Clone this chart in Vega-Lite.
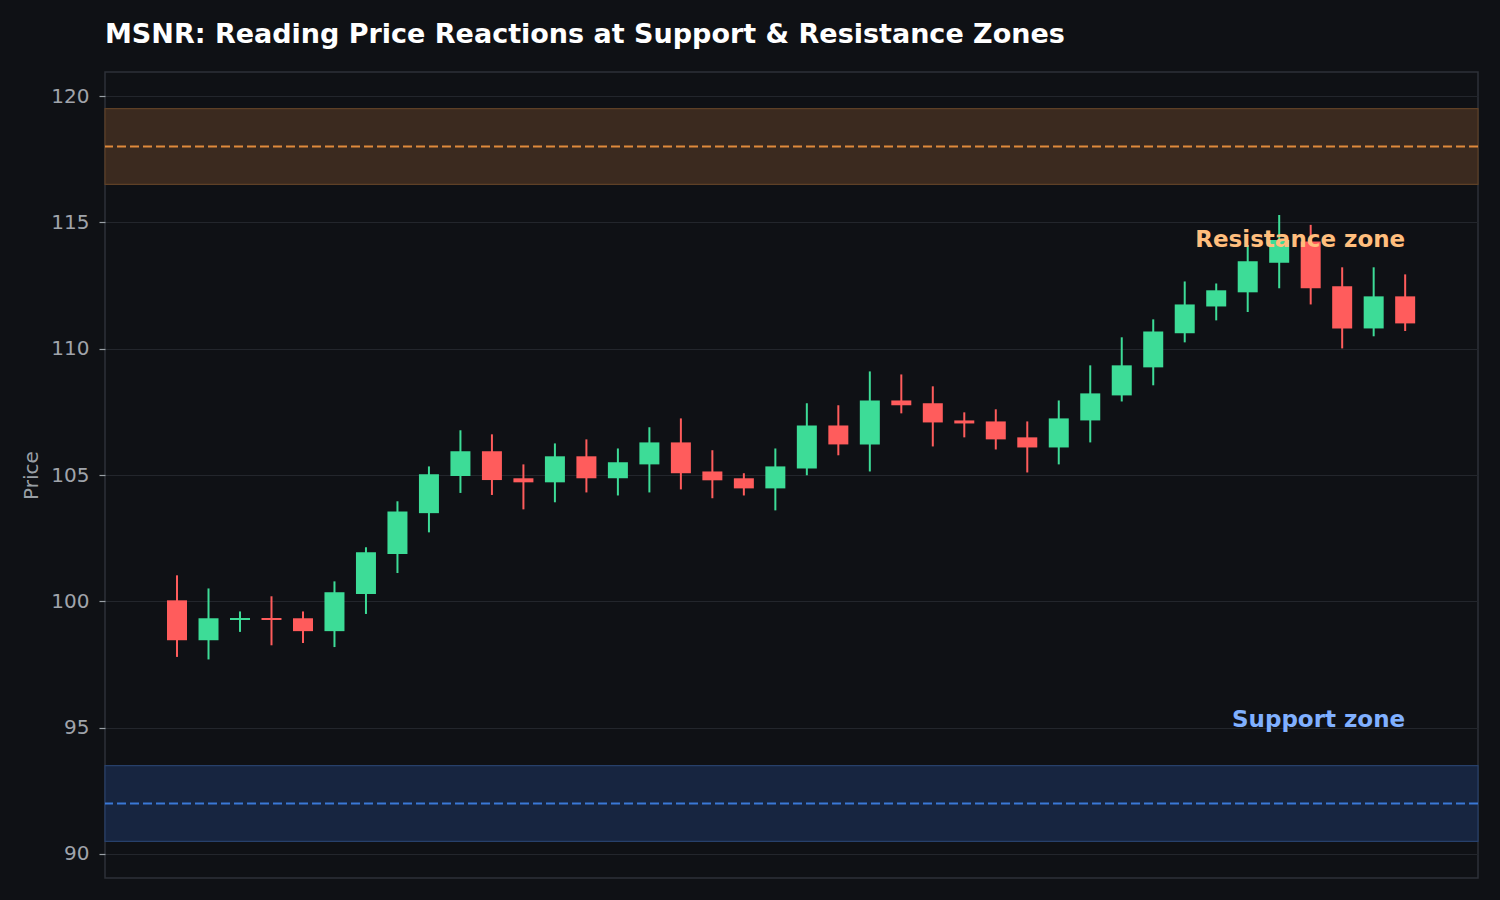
{
  "$schema": "https://vega.github.io/schema/vega-lite/v6.json",
  "width": 1373,
  "height": 806,
  "autosize": "none",
  "padding": {"left": 105, "top": 72, "right": 22, "bottom": 22},
  "background": "#0f1115",
  "config": {
    "view": {"stroke": "#2e3138", "strokeWidth": 1.5, "fill": "#0f1115"},
    "font": "DejaVu Sans"
  },
  "title": {
    "text": "MSNR: Reading Price Reactions at Support & Resistance Zones",
    "anchor": "start",
    "frame": "group",
    "font": "DejaVu Sans",
    "fontSize": 27,
    "fontWeight": "bold",
    "color": "#ffffff",
    "offset": 23
  },
  "datasets": {
    "candles": [
      {"i": 0, "open": 100.04, "close": 98.46, "high": 101.03, "low": 97.8},
      {"i": 1, "open": 98.46, "close": 99.33, "high": 100.51, "low": 97.7},
      {"i": 2, "open": 99.26, "close": 99.34, "high": 99.6, "low": 98.79},
      {"i": 3, "open": 99.34, "close": 99.26, "high": 100.2, "low": 98.26},
      {"i": 4, "open": 99.33, "close": 98.82, "high": 99.6, "low": 98.35},
      {"i": 5, "open": 98.82, "close": 100.36, "high": 100.79, "low": 98.19},
      {"i": 6, "open": 100.29, "close": 101.94, "high": 102.14, "low": 99.5},
      {"i": 7, "open": 101.87, "close": 103.56, "high": 103.96, "low": 101.12},
      {"i": 8, "open": 103.49, "close": 105.03, "high": 105.34, "low": 102.73},
      {"i": 9, "open": 104.96, "close": 105.94, "high": 106.77, "low": 104.29},
      {"i": 10, "open": 105.94, "close": 104.8, "high": 106.61, "low": 104.21},
      {"i": 11, "open": 104.87, "close": 104.71, "high": 105.42, "low": 103.64},
      {"i": 12, "open": 104.71, "close": 105.74, "high": 106.25, "low": 103.92},
      {"i": 13, "open": 105.74, "close": 104.87, "high": 106.41, "low": 104.31},
      {"i": 14, "open": 104.87, "close": 105.5, "high": 106.05, "low": 104.19},
      {"i": 15, "open": 105.42, "close": 106.29, "high": 106.89, "low": 104.31},
      {"i": 16, "open": 106.29, "close": 105.07, "high": 107.24, "low": 104.43},
      {"i": 17, "open": 105.14, "close": 104.79, "high": 105.98, "low": 104.08},
      {"i": 18, "open": 104.87, "close": 104.47, "high": 105.07, "low": 104.19},
      {"i": 19, "open": 104.47, "close": 105.34, "high": 106.05, "low": 103.6},
      {"i": 20, "open": 105.26, "close": 106.96, "high": 107.84, "low": 104.99},
      {"i": 21, "open": 106.96, "close": 106.21, "high": 107.76, "low": 105.78},
      {"i": 22, "open": 106.21, "close": 107.95, "high": 109.1, "low": 105.14},
      {"i": 23, "open": 107.95, "close": 107.76, "high": 108.98, "low": 107.44},
      {"i": 24, "open": 107.84, "close": 107.08, "high": 108.51, "low": 106.13},
      {"i": 25, "open": 107.16, "close": 107.04, "high": 107.48, "low": 106.49},
      {"i": 26, "open": 107.12, "close": 106.41, "high": 107.6, "low": 106.01},
      {"i": 27, "open": 106.49, "close": 106.09, "high": 107.12, "low": 105.1},
      {"i": 28, "open": 106.09, "close": 107.24, "high": 107.95, "low": 105.42},
      {"i": 29, "open": 107.16, "close": 108.23, "high": 109.34, "low": 106.29},
      {"i": 30, "open": 108.15, "close": 109.34, "high": 110.45, "low": 107.91},
      {"i": 31, "open": 109.26, "close": 110.68, "high": 111.16, "low": 108.55},
      {"i": 32, "open": 110.61, "close": 111.75, "high": 112.66, "low": 110.25},
      {"i": 33, "open": 111.67, "close": 112.31, "high": 112.58, "low": 111.12},
      {"i": 34, "open": 112.23, "close": 113.46, "high": 114.1, "low": 111.45},
      {"i": 35, "open": 113.4, "close": 114.3, "high": 115.29, "low": 112.39},
      {"i": 36, "open": 114.24, "close": 112.39, "high": 114.9, "low": 111.75},
      {"i": 37, "open": 112.47, "close": 110.8, "high": 113.22, "low": 110.01},
      {"i": 38, "open": 110.8, "close": 112.07, "high": 113.22, "low": 110.49},
      {"i": 39, "open": 112.07, "close": 111.0, "high": 112.94, "low": 110.7}
    ],
    "zones": [
      {"zone": "Resistance", "lo": 116.5, "hi": 119.5, "level": 118},
      {"zone": "Support", "lo": 90.5, "hi": 93.5, "level": 92}
    ]
  },
  "layer": [
    {
      "data": {"name": "zones"},
      "mark": {"type": "rect", "strokeWidth": 1.2},
      "encoding": {
        "y": {
          "field": "lo",
          "type": "quantitative",
          "scale": {"domain": [89.05, 120.95], "nice": false, "zero": false},
          "axis": {
            "title": "Price",
            "titleColor": "#9aa0a6",
            "titleFontSize": 20,
            "titleFontWeight": "normal",
            "titleFont": "DejaVu Sans",
            "titlePadding": 9,
            "labelFont": "DejaVu Sans",
            "labelFontSize": 20,
            "labelColor": "#a0a4ab",
            "labelPadding": 10,
            "tickColor": "#9aa0a6",
            "tickSize": 6,
            "tickWidth": 1.2,
            "domain": false,
            "grid": true,
            "gridColor": "#23262c",
            "gridWidth": 1,
            "values": [90, 95, 100, 105, 110, 115, 120]
          }
        },
        "y2": {"field": "hi"},
        "fill": {
          "field": "zone",
          "type": "nominal",
          "scale": {"domain": ["Resistance", "Support"], "range": ["#3b2a1f", "#172540"]},
          "legend": null
        },
        "stroke": {
          "field": "zone",
          "type": "nominal",
          "scale": {"domain": ["Resistance", "Support"], "range": ["#5e4026", "#27406a"]},
          "legend": null
        }
      }
    },
    {
      "data": {"name": "zones"},
      "mark": {"type": "rule", "strokeWidth": 2, "strokeDash": [9, 4]},
      "encoding": {
        "y": {"field": "level", "type": "quantitative"},
        "color": {
          "field": "zone",
          "type": "nominal",
          "scale": {"domain": ["Resistance", "Support"], "range": ["#e08a3c", "#3a78d6"]},
          "legend": null
        }
      }
    },
    {
      "data": {"name": "candles"},
      "mark": {"type": "rule", "strokeWidth": 2},
      "encoding": {
        "x": {
          "field": "i",
          "type": "quantitative",
          "scale": {"domain": [-2.287, 41.313], "nice": false, "zero": false, "padding": 0},
          "axis": null
        },
        "y": {"field": "low", "type": "quantitative"},
        "y2": {"field": "high"},
        "color": {
          "condition": {"test": "datum.close >= datum.open", "value": "#3ddc97"},
          "value": "#ff5c5c"
        }
      }
    },
    {
      "data": {"name": "candles"},
      "mark": {"type": "bar", "width": 20},
      "encoding": {
        "x": {"field": "i", "type": "quantitative"},
        "y": {"field": "open", "type": "quantitative"},
        "y2": {"field": "close"},
        "color": {
          "condition": {"test": "datum.close >= datum.open", "value": "#3ddc97"},
          "value": "#ff5c5c"
        }
      }
    },
    {
      "data": {"values": [{}]},
      "mark": {"type": "text", "align": "right", "baseline": "middle", "font": "DejaVu Sans", "fontSize": 23, "fontWeight": "bold", "color": "#ffbe7d", "text": "Resistance zone"},
      "encoding": {
        "x": {"datum": 39, "type": "quantitative"},
        "y": {"datum": 114.3, "type": "quantitative"}
      }
    },
    {
      "data": {"values": [{}]},
      "mark": {"type": "text", "align": "right", "baseline": "middle", "font": "DejaVu Sans", "fontSize": 23, "fontWeight": "bold", "color": "#80b0ff", "text": "Support zone"},
      "encoding": {
        "x": {"datum": 39, "type": "quantitative"},
        "y": {"datum": 95.29, "type": "quantitative"}
      }
    }
  ]
}
